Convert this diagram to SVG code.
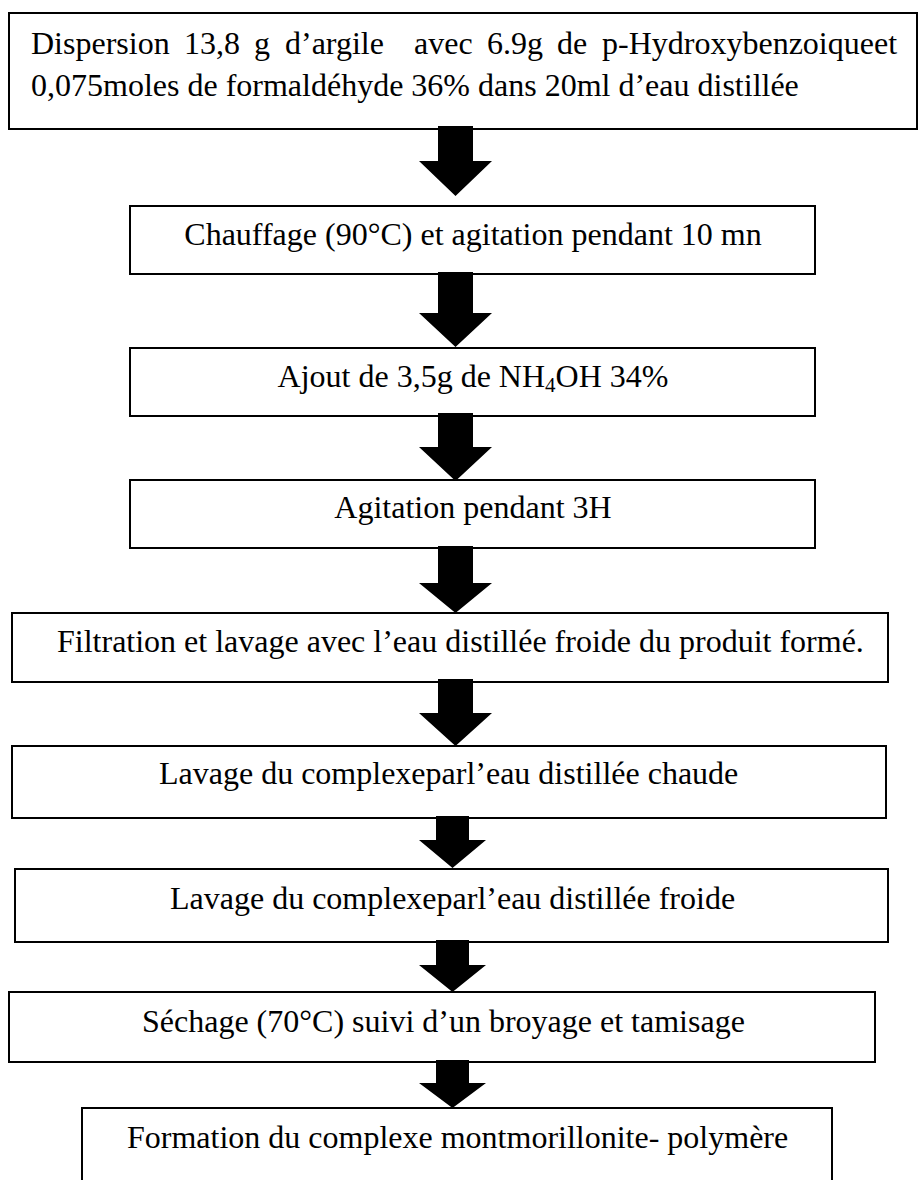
<svg xmlns="http://www.w3.org/2000/svg" width="919" height="1180" viewBox="0 0 919 1180">
<style>
.box{fill:#fff;stroke:#000;stroke-width:2}
.t{font-family:"Liberation Serif","Times New Roman",serif;font-size:32px;fill:#000}
.c{text-anchor:middle}
.arr{fill:#000;stroke:none}
</style>
<rect width="919" height="1180" fill="#fff"/>
<g id="n1">
<rect class="box" x="9" y="13" width="908" height="116"/>
<text class="t" y="54"><tspan x="31">Dispersion</tspan><tspan x="184">13,8</tspan><tspan x="254">g</tspan><tspan x="285">d’argile</tspan><tspan x="414">avec</tspan><tspan x="487">6.9g</tspan><tspan x="557">de</tspan><tspan x="602">p-Hydroxybenzoiqueet</tspan></text>
<text class="t" x="31" y="96">0,075moles de formaldéhyde 36% dans 20ml d’eau distillée</text>
</g>
<g id="n2">
<rect class="box" x="130" y="206" width="685" height="68"/>
<text class="t c" x="473" y="245">Chauffage (90°C) et agitation pendant 10 mn</text>
</g>
<g id="n3">
<rect class="box" x="130" y="348" width="685" height="68"/>
<text class="t c" x="473" y="387">Ajout de 3,5g de NH<tspan font-size="21" dy="5">4</tspan><tspan dy="-5">OH 34%</tspan></text>
</g>
<g id="n4">
<rect class="box" x="130" y="480" width="685" height="68"/>
<text class="t c" x="473" y="518">Agitation pendant 3H</text>
</g>
<g id="n5">
<rect class="box" x="12" y="613" width="876" height="69"/>
<text class="t" x="57" y="652">Filtration et lavage avec l’eau distillée froide du produit formé.</text>
</g>
<g id="n6">
<rect class="box" x="12" y="746" width="874" height="72"/>
<text class="t" x="159" y="784">Lavage du complexeparl’eau distillée chaude</text>
</g>
<g id="n7">
<rect class="box" x="15" y="869" width="873" height="73"/>
<text class="t" x="170" y="909">Lavage du complexeparl’eau distillée froide</text>
</g>
<g id="n8">
<rect class="box" x="9" y="992" width="866" height="70"/>
<text class="t" x="142" y="1032">Séchage (70°C) suivi d’un broyage et tamisage</text>
</g>
<g id="n9">
<path class="box" d="M82 1195 V1108 H832 V1195"/>
<text class="t" x="127" y="1148">Formation du complexe montmorillonite- polymère</text>
</g>
<g id="connectors">
<polygon class="arr" points="438,126 473,126 473,161 492,161 455.5,196 419,161 438,161"/>
<polygon class="arr" points="438,272 473,272 473,313 492,313 455.5,347 419,313 438,313"/>
<polygon class="arr" points="438,413 473,413 473,447 492,447 455.5,481 419,447 438,447"/>
<polygon class="arr" points="438,546 473,546 473,583 492,583 455.5,613 419,583 438,583"/>
<polygon class="arr" points="438,679 473,679 473,713 492,713 455.5,746 419,713 438,713"/>
<polygon class="arr" points="436,816 469,816 469,840 486,840 452.5,868 419,840 436,840"/>
<polygon class="arr" points="436,940 469,940 469,965 486,965 452.5,992 419,965 436,965"/>
<polygon class="arr" points="436,1060 469,1060 469,1083 486,1083 452.5,1108 419,1083 436,1083"/>
</g>
</svg>
